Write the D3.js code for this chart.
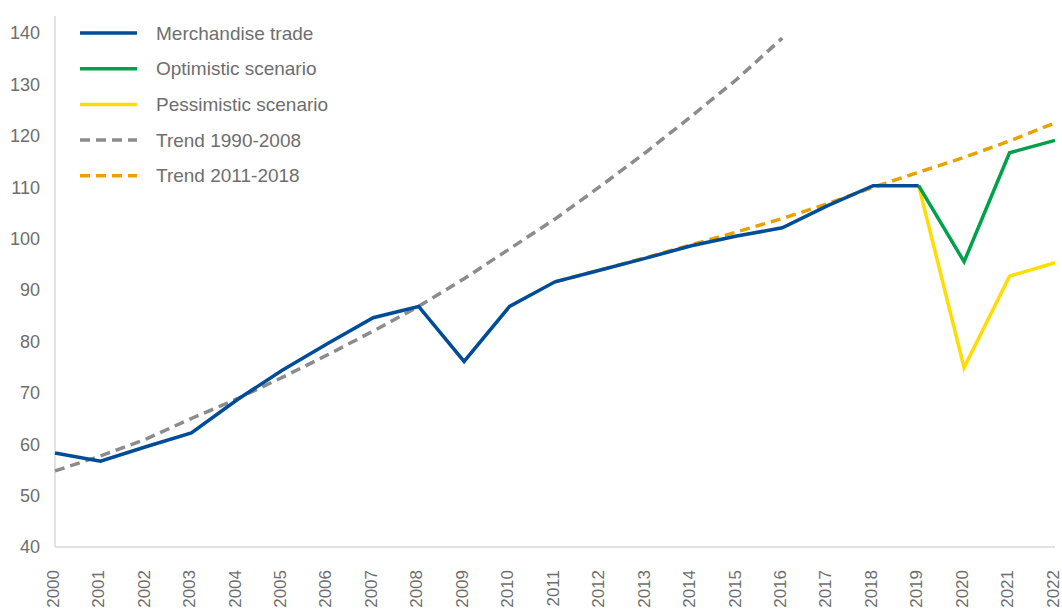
<!DOCTYPE html>
<html>
<head>
<meta charset="utf-8">
<script src="https://cdn.jsdelivr.net/npm/d3@7"></script>
<style>
  body { margin: 0; background: #fff; }
  svg { font-family: "Liberation Sans", Arial, sans-serif; }
</style>
</head>
<body>
<div id="chart"></div>
<script>
// years on the x axis
const years = d3.range(2000, 2023);

// merchandise trade volume index, 2000-2019
const tradeYears = d3.range(2000, 2020);
const tradeValues = [58.3, 56.7, 59.5, 62.2, 68.6, 74.4, 79.6, 84.6, 86.8, 76.1,
    86.8, 91.6, 93.9, 96.2, 98.6, 100.5, 102.1, 106.4, 110.3, 110.3];

// scenarios 2019-2022
const scenarioYears = [2019, 2020, 2021, 2022];
const optimisticValues = [110.3, 95.5, 116.7, 119.1];
const pessimisticValues = [110.3, 74.9, 92.7, 95.3];

// trend lines
const trend1Years = d3.range(2000, 2017);
const trend1Values = [54.8, 57.7, 61.0, 65.0, 68.8, 73.0, 77.4, 82.0, 86.8, 92.2,
    98.0, 103.8, 110.2, 116.8, 123.8, 131.0, 139.0];
const trend2Years = d3.range(2011, 2023);
const trend2Values = [91.6, 93.9, 96.3, 98.8, 101.3, 103.9, 106.8, 110.0, 112.9, 115.8, 119.0, 122.5];

const yTicks = [40, 50, 60, 70, 80, 90, 100, 110, 120, 130, 140];

const series = [
    { name: "Merchandise trade", color: "#004c97", dash: null },
    { name: "Optimistic scenario", color: "#00a14b", dash: null },
    { name: "Pessimistic scenario", color: "#ffdd00", dash: null },
    { name: "Trend 1990-2008", color: "#8c8c8c", dash: "10,6" },
    { name: "Trend 2011-2018", color: "#e9a100", dash: "10,6" }
];

const width = 1062, height = 610;
const svg = d3.select("#chart").append("svg")
    .attr("width", width)
    .attr("height", height);

const x = d3.scaleLinear().domain([2000, 2022]).range([55, 1055]);
const y = d3.scaleLinear().domain([40, 140]).range([547, 33]);

// axis lines
svg.append("line")
    .attr("x1", 55).attr("x2", 55)
    .attr("y1", 16).attr("y2", 547)
    .attr("stroke", "#d9d9d9").attr("stroke-width", 1.5);
svg.append("line")
    .attr("x1", 55).attr("x2", 1055)
    .attr("y1", 547).attr("y2", 547)
    .attr("stroke", "#d9d9d9").attr("stroke-width", 1.5);

// y tick labels
svg.append("g").selectAll("text")
    .data(yTicks)
    .join("text")
    .attr("x", 40)
    .attr("y", d => y(d))
    .attr("dy", "0.35em")
    .attr("text-anchor", "end")
    .attr("font-size", "18px")
    .attr("fill", "#6e6e6e")
    .text(d => d);

// x tick labels, rotated (kept just inside the bottom edge)
svg.append("g").selectAll("text")
    .data(years)
    .join("text")
    .attr("transform", d => `translate(${x(d)},570) rotate(-90)`)
    .attr("dy", "0.22em")
    .attr("text-anchor", "end")
    .attr("font-size", "17px")
    .attr("fill", "#6e6e6e")
    .text(d => d);

const line = d3.line().x(d => x(d[0])).y(d => y(d[1]));
const zip = (a, b) => a.map((v, i) => [v, b[i]]);

function drawLine(pts, s) {
    svg.append("path")
        .datum(pts)
        .attr("d", line)
        .attr("fill", "none")
        .attr("stroke", s.color)
        .attr("stroke-width", 3.5)
        .attr("stroke-linejoin", "miter")
        .attr("stroke-dasharray", s.dash);
}

drawLine(zip(trend1Years, trend1Values), series[3]);
drawLine(zip(trend2Years, trend2Values), series[4]);
drawLine(zip(scenarioYears, pessimisticValues), series[2]);
drawLine(zip(scenarioYears, optimisticValues), series[1]);
drawLine(zip(tradeYears, tradeValues), series[0]);

// legend
const legend = svg.append("g").selectAll("g")
    .data(series)
    .join("g")
    .attr("transform", (d, i) => `translate(80,${33 + i * 35.7})`);

legend.append("line")
    .attr("x1", 0).attr("x2", 57)
    .attr("stroke", d => d.color)
    .attr("stroke-width", 3.5)
    .attr("stroke-dasharray", d => d.dash);

legend.append("text")
    .attr("x", 76)
    .attr("dy", "0.35em")
    .attr("font-size", "19px")
    .attr("fill", "#6e6e6e")
    .text(d => d.name);
</script>
</body>
</html>
